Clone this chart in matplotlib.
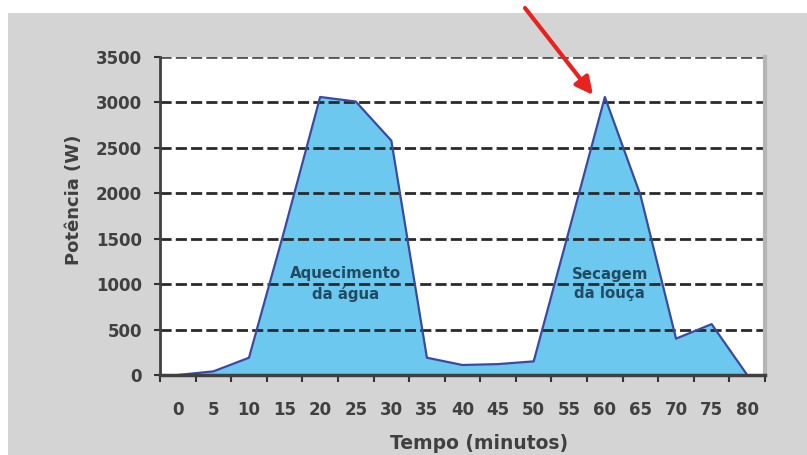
# plot.py - power profile of a dishwasher cycle (potência x tempo)
import matplotlib
matplotlib.use('Agg')
import matplotlib.pyplot as plt
from matplotlib.patches import Rectangle, FancyArrowPatch
from matplotlib.transforms import IdentityTransform

# data
minutes = [0, 5, 10, 15, 20, 25, 30, 35, 40, 45, 50, 55, 60, 65, 70, 75, 80]
power = [0, 40, 190, 1600, 3060, 3010, 2580, 190, 110, 120, 150, 1600, 3060, 1980, 400, 560, 0]
y_ticks = [0, 500, 1000, 1500, 2000, 2500, 3000, 3500]
phase_labels = ['Aquecimento\nda água', 'Secagem\nda louça']
phase_pos = [(23.6, 1000), (60.7, 1000)]

plt.rcParams['font.family'] = ['DejaVu Sans']

fig = plt.figure(figsize=(8.07, 4.55), dpi=100)
fig.patch.set_facecolor('white')
# grey panel behind the chart
fig.add_artist(Rectangle((8 / 807, 0), 1, 1 - 13 / 455, transform=fig.transFigure,
                         facecolor='#d4d4d4', edgecolor='none', zorder=-5))

ax = fig.add_axes([160 / 807, 1 - 375 / 455, 605 / 807, 318 / 455])
ax.set_facecolor('white')

ax.fill_between(minutes, power, 0, color='#6dc8f0', zorder=2, lw=0)
ax.plot(minutes, power, color='#3b4aa0', lw=1.6, zorder=4)

for v in y_ticks[1:]:
    ax.axhline(v, color='#2a2a2a' if v < 3500 else '#555555', lw=2.0,
               ls=(0, (4, 1.5)), zorder=3)

ax.set_xlim(-2.5, 82.5)
ax.set_ylim(0, 3500)

# tick marks at category borders, labels at category centres
ax.set_xticks([m - 2.5 for m in minutes] + [82.5])
ax.set_xticklabels([])
ax.set_xticks(minutes, minor=True)
ax.set_xticklabels([str(m) for m in minutes], minor=True)
ax.tick_params(axis='x', which='major', direction='out', length=5, width=1.5, color='#333333')
ax.tick_params(axis='x', which='minor', length=0, pad=19, labelsize=12, labelcolor='#404040')
for lbl in ax.get_xticklabels(minor=True):
    lbl.set_fontweight('bold')

ax.set_yticks(y_ticks)
ax.set_yticklabels([str(v) for v in y_ticks])
ax.tick_params(axis='y', direction='out', length=4, width=1.5, color='#333333',
               labelsize=12, labelcolor='#404040', pad=9)
for lbl in ax.get_yticklabels():
    lbl.set_fontweight('bold')

ax.spines['top'].set_visible(False)
ax.spines['right'].set_color('#b5b5b5')
ax.spines['right'].set_linewidth(3)
ax.spines['left'].set_color('#404040')
ax.spines['left'].set_linewidth(2)
ax.spines['bottom'].set_color('#404040')
ax.spines['bottom'].set_linewidth(2.5)
for s in ax.spines.values():
    s.set_zorder(5)

ax.set_xlabel('Tempo (minutos)', fontsize=13.5, fontweight='bold', color='#404040')
ax.xaxis.set_label_coords(0.527, -0.185)
ax.set_ylabel('Potência (W)', fontsize=13, fontweight='bold', color='#404040')
ax.yaxis.set_label_coords(-0.127, 0.55)

for txt, (x, y) in zip(phase_labels, phase_pos):
    ax.text(x, y, txt, ha='center', va='center', fontsize=10.8, fontweight='bold',
            color='#214b60', zorder=6, linespacing=1.35)

# red arrow pointing at the second peak (pixel coords, origin bottom-left)
arrow = FancyArrowPatch((525, 447), (593, 360), transform=IdentityTransform(),
                        arrowstyle='-|>', color='#e8231f', lw=3, mutation_scale=26,
                        shrinkA=0, shrinkB=0, zorder=10)
fig.add_artist(arrow)

fig.savefig('out.png', dpi=100)
